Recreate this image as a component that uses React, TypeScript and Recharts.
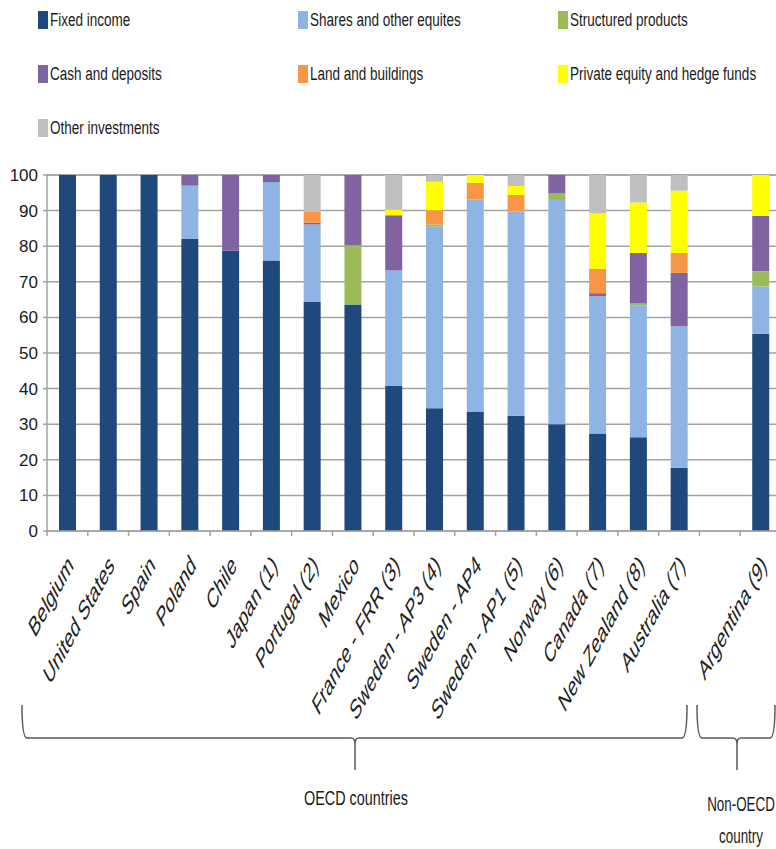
import { BarChart, Bar, XAxis, YAxis, CartesianGrid } from 'recharts';

const categories = [
  'Belgium', 'United States', 'Spain', 'Poland', 'Chile', 'Japan (1)', 'Portugal (2)', 'Mexico',
  'France - FRR (3)', 'Sweden - AP3 (4)', 'Sweden - AP4', 'Sweden - AP1 (5)', 'Norway (6)',
  'Canada (7)', 'New Zealand (8)', 'Australia (7)', '', 'Argentina (9)',
];

const fixedIncome = [100, 100, 100, 82, 78.7, 76, 64.3, 63.6, 40.7, 34.5, 33.6, 32.4, 30, 27.4, 26.3, 17.8, 0, 55.4];
const shares = [0, 0, 0, 15, 0, 22, 21.8, 0, 32.5, 51, 59.6, 57.3, 63, 38.5, 37.1, 39.7, 0, 13.3];
const structured = [0, 0, 0, 0, 0, 0, 0, 16.7, 0, 0.6, 0, 0, 1.8, 0, 0.6, 0, 0, 4.3];
const cash = [0, 0, 0, 3, 21.3, 2, 0.5, 19.7, 15.5, 0, 0, 0, 5.2, 0.9, 14.1, 15, 0, 15.5];
const land = [0, 0, 0, 0, 0, 0, 3, 0, 0, 4, 4.6, 4.7, 0, 6.9, 0, 5.6, 0, 0];
const privateEquity = [0, 0, 0, 0, 0, 0, 0, 0, 1.5, 8, 2.2, 2.5, 0, 15.5, 14.2, 17.5, 0, 11.5];
const other = [0, 0, 0, 0, 0, 0, 10.4, 0, 9.8, 1.9, 0, 3.1, 0, 10.8, 7.7, 4.4, 0, 0];

const yTicks = [0, 10, 20, 30, 40, 50, 60, 70, 80, 90, 100];

const series = [
  { key: 'fixed', name: 'Fixed income', color: '#1f497d', values: fixedIncome },
  { key: 'shares', name: 'Shares and other equites', color: '#8eb4e3', values: shares },
  { key: 'structured', name: 'Structured products', color: '#9bbb59', values: structured },
  { key: 'cash', name: 'Cash and deposits', color: '#8064a2', values: cash },
  { key: 'land', name: 'Land and buildings', color: '#f79646', values: land },
  { key: 'pe', name: 'Private equity and hedge funds', color: '#ffff00', values: privateEquity },
  { key: 'other', name: 'Other investments', color: '#bfbfbf', values: other },
];

const data = categories.map((name, i) => {
  const row: Record<string, string | number> = { name };
  series.forEach((s) => { row[s.key] = s.values[i]; });
  return row;
});

const FONT = "'Liberation Sans', Arial, sans-serif";
const GRID = '#a3a3a3';
const CHART_W = 781;
const Y_W = 47;
const BAND = (CHART_W - Y_W) / categories.length;

// labels look horizontally squashed in the source, so draw them at 45deg and squeeze x
function XTick(props: any) {
  const { x, y, payload, index } = props;
  const ax = x + 7;
  const ay = y + 36;
  return (
    <g>
      <line x1={x - BAND / 2} x2={x - BAND / 2} y1={y} y2={y + 5} stroke={GRID} strokeWidth={1.5} />
      {index === categories.length - 1 && (
        <line x1={x + BAND / 2} x2={x + BAND / 2} y1={y} y2={y + 5} stroke={GRID} strokeWidth={1.5} />
      )}
      {payload.value && (
        <text
          x={0}
          y={0}
          transform={`translate(${ax}, ${ay}) scale(0.55, 1) rotate(-45)`}
          textAnchor="end"
          fontSize={28}
          fontFamily={FONT}
          fill="#222"
        >
          {payload.value}
        </text>
      )}
    </g>
  );
}

function LegendBox() {
  return (
    <>
      {series.map((s, i) => (
        <div
          key={s.key}
          style={{
            position: 'absolute',
            left: 38 + (i % 3) * 260,
            top: 11 + Math.floor(i / 3) * 54,
            height: 18,
            display: 'flex',
            alignItems: 'center',
            whiteSpace: 'nowrap',
          }}
        >
          <span style={{ display: 'inline-block', width: 10, height: 18, background: s.color, marginRight: 2 }} />
          <span
            style={{
              display: 'inline-block',
              fontFamily: FONT,
              fontSize: 18,
              color: '#1a1a1a',
              transform: 'scaleX(0.75)',
              transformOrigin: 'left center',
            }}
          >
            {s.name}
          </span>
        </div>
      ))}
    </>
  );
}

export default function App() {
  return (
    <div style={{ position: 'absolute', left: 0, top: 0, width: 776, height: 849, overflow: 'hidden', background: '#fff' }}>
      <BarChart width={CHART_W} height={849} data={data} margin={{ top: 175, right: 0, left: 0, bottom: 0 }} barSize={17}>
        <CartesianGrid vertical={false} stroke={GRID} strokeWidth={1.5} />
        <XAxis
          dataKey="name"
          interval={0}
          height={318}
          tickSize={0}
          tickMargin={0}
          tickLine={false}
          axisLine={{ stroke: GRID, strokeWidth: 1.5 }}
          tick={(p: any) => <XTick {...p} />}
        />
        <YAxis
          width={Y_W}
          domain={[0, 100]}
          ticks={yTicks}
          interval={0}
          tickSize={4}
          tickMargin={5}
          axisLine={{ stroke: GRID, strokeWidth: 1.5 }}
          tickLine={{ stroke: GRID, strokeWidth: 1.5 }}
          tick={{ fontSize: 17, fill: '#1a1a1a', fontFamily: FONT }}
        />
        {series.map((s) => (
          <Bar key={s.key} dataKey={s.key} name={s.name} stackId="a" fill={s.color} isAnimationActive={false} />
        ))}
      </BarChart>
      <LegendBox />
      <svg width={776} height={849} style={{ position: 'absolute', left: 0, top: 0, pointerEvents: 'none' }}>
        <g fill="none" stroke="#595959" strokeWidth={1.5}>
          <path d="M22,705 Q22,738 27,738 L351,738 Q355,738 355,744 L355,770 M355,744 Q355,738 359,738 L682,738 Q687,738 687,705" />
          <path d="M697,705 Q697,738 702,738 L733,738 Q737,738 737,744 L737,770 M737,744 Q737,738 741,738 L770,738 Q775,738 775,705" />
        </g>
        <g fontFamily={FONT} fontSize={20} fill="#1a1a1a" textAnchor="middle">
          <text x={0} y={0} transform="translate(356, 805) scale(0.72, 1)">OECD countries</text>
          <text x={0} y={0} transform="translate(741, 811) scale(0.67, 1)">Non-OECD</text>
          <text x={0} y={0} transform="translate(741, 843) scale(0.67, 1)">country</text>
        </g>
      </svg>
    </div>
  );
}
